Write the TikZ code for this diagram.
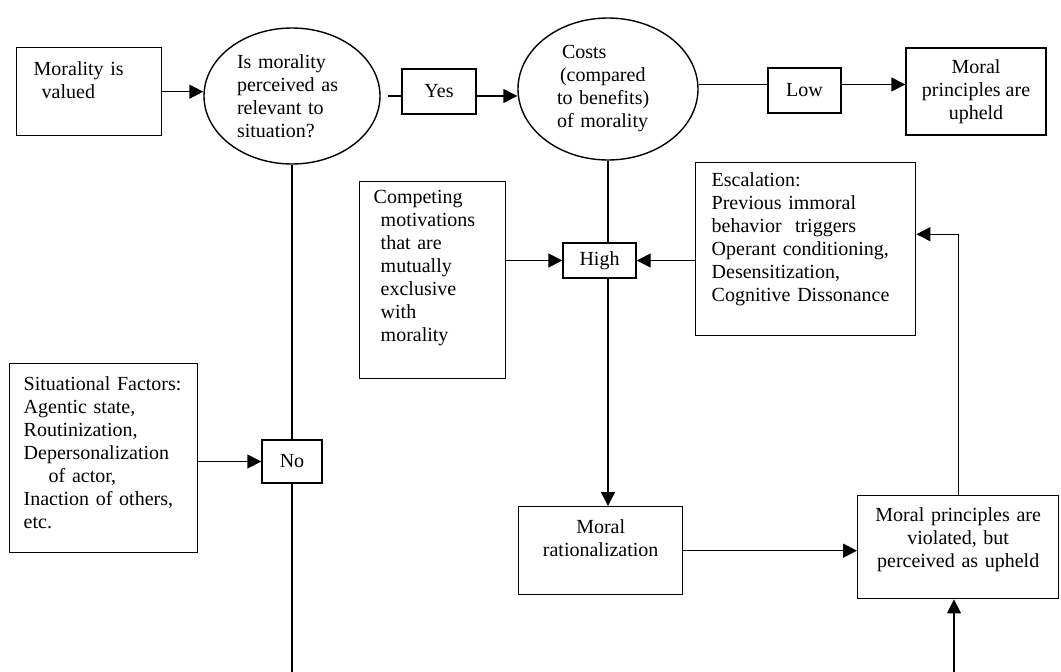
\documentclass[tikz,border=0pt]{standalone}
\usepackage{fontspec}
\setmainfont{Liberation Serif}
\usetikzlibrary{shapes.geometric,arrows.meta}

\begin{document}
\begin{tikzpicture}[x=1pt, y=-1pt, line width=1.4pt,
    font=\fontsize{20}{23}\selectfont,
    box/.style={draw, anchor=north west, align=left, inner ysep=0pt},
    tag/.style={draw, inner sep=0pt},
    oval/.style={draw, ellipse, align=left, inner sep=2pt},
    arr/.style={-{Triangle[length=14pt, width=14pt]}}]

    \useasboundingbox (0,0) rectangle (1061,672);

    % Top row: value -> relevance -> costs -> upheld
    \node[box, inner xsep=17pt, text width=111pt, text height=28pt, text depth=60pt]
        (valued) at (16,47) {Morality~is\\\hspace*{8pt}valued};
    \node[oval, minimum width=176pt, minimum height=136pt, text width=110pt]
        (ell1) at (292,96) {Is morality\\perceived as\\relevant to\\situation?};
    \node[tag, minimum width=74pt, minimum height=45pt] (yes) at (439,91.5) {Yes};
    \node[oval, minimum width=180pt, minimum height=142pt, text width=102pt]
        (cost) at (608,89) {\hspace*{5pt}Costs\\\hspace*{3pt}(compared\\to~benefits)\\of~morality};
    \node[tag, minimum width=73pt, minimum height=45pt] (low) at (804.5,90.5) {Low};
    \node[tag, align=center, minimum width=140pt, minimum height=87pt]
        (upheld) at (976,91.5) {Moral\\principles are\\upheld};

    % Middle: what pushes costs up
    \node[box, inner xsep=14pt, text width=118pt, text height=22pt, text depth=175pt]
        (comp) at (359,181) {Competing\\\hspace*{7pt}motivations\\\hspace*{7pt}that~are\\
        \hspace*{7pt}mutually\\\hspace*{7pt}exclusive\\\hspace*{7pt}with\\\hspace*{7pt}morality};
    \node[tag, minimum width=73pt, minimum height=35pt] (high) at (599.5,260.5) {High};
    \node[box, inner xsep=16pt, text width=188pt, text height=24pt, text depth=149pt]
        (esc) at (695,162) {Escalation:\\Previous~immoral\\behavior~~triggers\\
        Operant~conditioning,\\Desensitization,\\Cognitive~Dissonance};

    % Left: situational factors
    \node[box, inner xsep=14pt, text width=160pt, text height=27pt, text depth=162pt]
        (sit) at (9,363) {\mbox{Situational Factors:}\\Agentic~state,\\Routinization,\\Depersonalization\\
        \hspace*{25pt}of~actor,\\\mbox{Inaction of others,}\\etc.};
    \node[tag, minimum width=60pt, minimum height=43pt] (no) at (292,461.5) {No};

    % Bottom row
    \node[box, align=center, inner xsep=0pt, text width=164pt, text height=27pt, text depth=61pt]
        (rational) at (518,506) {Moral\\rationalization};
    \node[box, align=center, inner xsep=0pt, text width=201pt, text height=26pt, text depth=77pt]
        (violated) at (857,495) {Moral~principles~are\\violated,~but\\perceived~as~upheld};

    % Connectors
    \draw[arr] (valued.east) -- (valued.east -| ell1.west);
    \draw[shorten <=7pt] (ell1.east) -- (yes.west |- ell1.east);
    \draw[arr] (yes.east |- ell1.east) -- (cost.west |- ell1.east);

    \coordinate (lowA) at ([yshift=6pt]low.west);
    \coordinate (lowB) at ([yshift=6pt]low.east);
    \draw (cost.east |- lowA) -- (lowA);
    \draw[arr] (lowB) -- (upheld.west |- lowB);

    \draw (cost.south) -- (cost.south |- high.north);
    \draw[arr] (cost.south |- high.south) -- (cost.south |- rational.north);
    \draw[arr] (comp.east |- high) -- (high.west);
    \draw[arr] (esc.west |- high) -- (high.east);

    \coordinate (cutA) at (292,672);
    \draw (ell1.south) -- (no.north);
    \draw (no.south) -- (cutA);
    \draw[arr] (sit.east |- no) -- (no.west);

    \draw[arr] (rational.east) -- (rational.east -| violated.west);
    \coordinate (escin) at ([yshift=15pt]esc.east);
    \draw[arr] (violated.north) |- (escin);
    \coordinate (cutB) at (954,672);
    \draw[arr] (cutB) -- (cutB |- violated.south);
\end{tikzpicture}
\end{document}
